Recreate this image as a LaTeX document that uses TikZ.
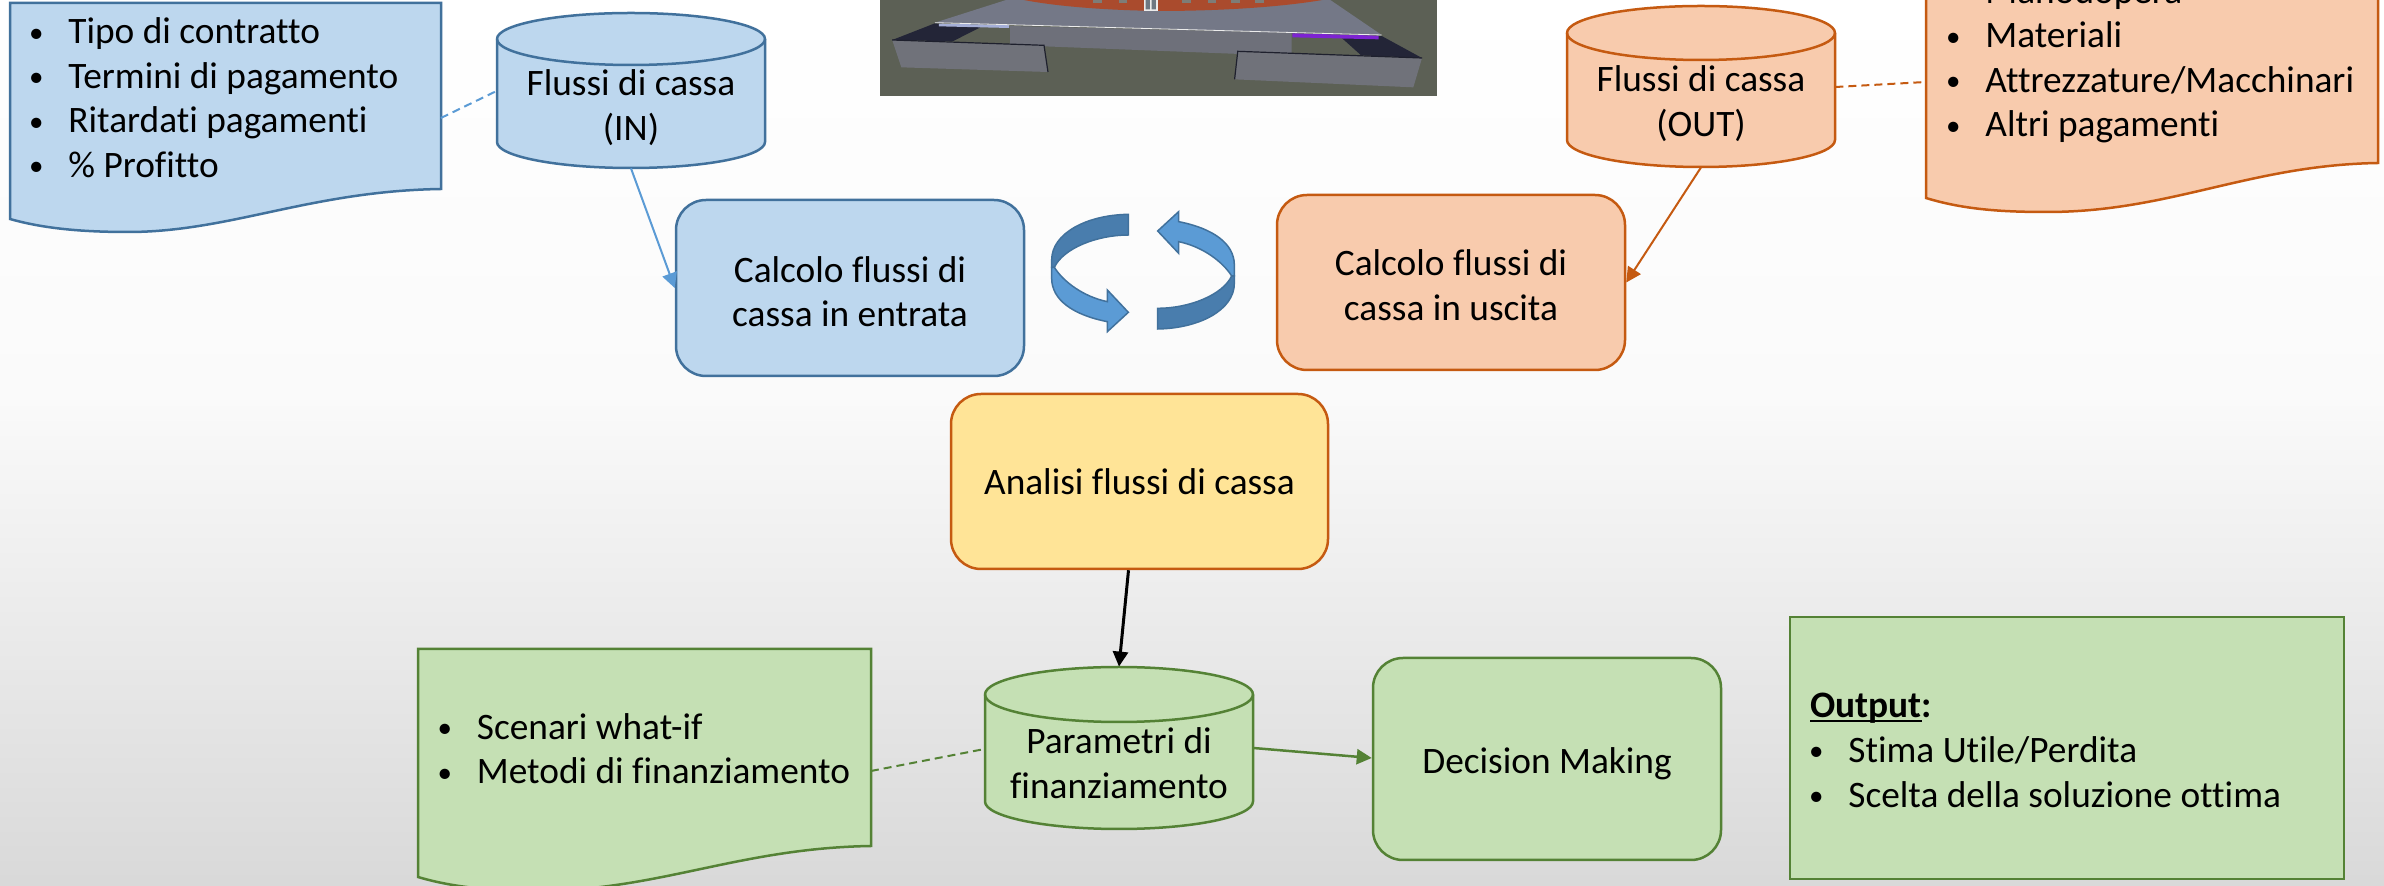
\documentclass[tikz,border=0pt]{standalone}
\usepackage{fontspec}
\setmainfont[Ligatures=CommonOff]{Carlito}
\usetikzlibrary{calc,arrows.meta}
\definecolor{bluefill}{HTML}{BDD7EE}\definecolor{bluedraw}{HTML}{41719C}\definecolor{bluearrow}{HTML}{5B9BD5}\definecolor{bluedark}{HTML}{497DAD}
\definecolor{orfill}{HTML}{F8CBAD}\definecolor{ordraw}{HTML}{C55A11}
\definecolor{grfill}{HTML}{C5E0B4}\definecolor{grdraw}{HTML}{548235}
\definecolor{yefill}{HTML}{FFE497}
\tikzset{
 x=0.5pt,y=-0.5pt,
 shapeline/.style={line width=1.25pt},
 txt/.style={font=\fontsize{18.67}{22.4}\selectfont,align=center,inner sep=0pt,text=black},
 listtxt/.style={font=\fontsize{18.67}{22.25}\selectfont,align=left,inner sep=0pt,anchor=north west,text=black},
 roundbox/.style={shapeline,rounded corners=15pt,inner sep=0pt},
 link/.style={line width=1pt},
 dashlink/.style={line width=1pt,dash pattern=on 4pt off 2.5pt},
 tip/.style={-{Triangle[length=7.5pt,width=7.5pt]}},
}
\newcommand{\blt}{\makebox[20pt][l]{\hspace{4pt}\makebox[0pt][c]{\raisebox{0.7pt}{\fontsize{14.5}{14.5}\selectfont\textbullet}}}}
\newcommand{\firstline}{\rule{0pt}{14pt}}
\newcommand{\thickul}[1]{\setbox0\hbox{#1}\rlap{\rule[-2.4pt]{\wd0}{1.3pt}}\box0 }
% \cyl{name}{x1}{y1}{x2}{y2}{ry}{fill}{draw}{text offset below the node centre}
\newcommand{\cyl}[9]{%
 \path[fill=#7,draw=#8,shapeline] (#2,#3+#6) -- (#2,#5-#6) arc[x radius={(#4-#2)/2},y radius=#6,start angle=180,end angle=0] -- (#4,#3+#6) arc[x radius={(#4-#2)/2},y radius=#6,start angle=0,end angle=-180] -- cycle;
 \draw[draw=#8,shapeline] (#2,#3+#6) arc[x radius={(#4-#2)/2},y radius=#6,start angle=180,end angle=0];
 \node[txt,minimum width={(#4-#2)*0.5pt},minimum height={(#5-#3)*0.5pt}] (#1) at ({(#2+#4)/2},{(#3+#5)/2}) {};
 \coordinate (#1c) at ({(#2+#4)/2},{(#3+#5)/2+#9});
}
% round box
\newcommand{\rbox}[8]{\node[roundbox,fill=#6,draw=#7,txt,minimum width={(#4-#2)*0.5pt},minimum height={(#5-#3)*0.5pt}] (#1) at ({(#2+#4)/2},{(#3+#5)/2}) {#8};}
\begin{document}
\begin{tikzpicture}
\useasboundingbox (0,0) rectangle (2384,886);
\clip (0,0) rectangle (2384,886);
\shade[top color=white,bottom color=white!98!black] (0,0) rectangle (2384,401);
\shade[top color=white!98!black,bottom color=white!85!black] (0,400) rectangle (2384,886);
% image
\begin{scope}[shift={(840,0)},x=0.19770pt,y=-0.16667pt]
\fill[fill={rgb,255:red,92;green,96;blue,85}] (101,0) rectangle (1510,288);
\fill[fill={rgb,255:red,116;green,120;blue,135}] (420,0) -- (1240,0) -- (1370,105) -- (240,68) -- cycle;
\fill[fill={rgb,255:red,110;green,112;blue,122}] (430,78) -- (1142,98) -- (1142,168) -- (430,135) -- cycle;
\fill[fill={rgb,255:red,170;green,75;blue,45}] (465,0) .. controls (560,22) and (700,32) .. (820,33) .. controls (980,32) and (1120,20) .. (1220,0) -- cycle;
\fill[fill={rgb,255:red,35;green,37;blue,55}] (240,70) -- (355,82) -- (285,124) -- (132,120) -- cycle;
\fill[fill={rgb,255:red,35;green,37;blue,55}] (1270,115) -- (1370,108) -- (1472,174) -- (1318,166) -- cycle;
\fill[fill={rgb,255:red,112;green,114;blue,122}] (132,120) -- (516,136) -- (526,216) -- (155,202) -- cycle;
\draw[line width=0.6pt,draw={rgb,255:red,30;green,32;blue,45}] (132,120) -- (516,136) -- (526,216);
\fill[fill={rgb,255:red,112;green,114;blue,122}] (1006,154) -- (1472,174) -- (1450,262) -- (998,238) -- cycle;
\draw[line width=0.6pt,draw={rgb,255:red,30;green,32;blue,45}] (998,238) -- (1006,154) -- (1472,174);
\fill[fill={rgb,255:red,165;green,175;blue,215}] (250,71) -- (428,75) -- (428,84) -- (250,79) -- cycle;
\fill[fill={rgb,255:red,125;green,35;blue,210}] (1144,100) -- (1362,107) -- (1362,118) -- (1144,112) -- cycle;
\draw[line width=0.4pt,draw=white!85!gray] (240,68) -- (1370,105);
\fill[fill=white!85!gray] (768,0) rectangle (803,33);
\fill[fill={rgb,255:red,110;green,120;blue,130}] (773,0) rectangle (784,28) (788,0) rectangle (799,28);
\foreach \wx in {640,705,865,930,990,1050}{\fill[fill={rgb,255:red,125;green,125;blue,120}] (\wx,0) rectangle (\wx+22,10);}
\end{scope}
% documents
\path[fill=bluefill,draw=bluedraw,shapeline] (10,3) -- (441,3) -- (441,189) .. controls (310,191) and (230,232) .. (128,232) .. controls (85,232) and (45,229) .. (10,219) -- cycle;
\node[listtxt] (d1) at (28,15.5) {\firstline\blt Tipo di contratto\\\blt Termini di pagamento\\\blt Ritardati pagamenti\\\blt \% Profitto};
\node[inner sep=0pt,minimum width=215pt,minimum height=115pt] (doc1) at (225.5,117) {};
\path[fill=orfill,draw=ordraw,shapeline] (1926,-10) -- (2378,-10) -- (2378,163) .. controls (2250,165) and (2170,212) .. (2047,212) .. controls (2005,212) and (1965,210) .. (1926,198) -- cycle;
\node[listtxt] (d2) at (1945,-25) {\firstline\blt Manodopera\\\blt Materiali\\\blt Attrezzature/Macchinari\\\blt Altri pagamenti};
\node[inner sep=0pt,minimum width=226pt,minimum height=110pt] (doc2) at (2152,100) {};
\path[fill=grfill,draw=grdraw,shapeline] (418,649) -- (871,649) -- (871,846) .. controls (740,848) and (660,890) .. (540,891) .. controls (495,891) and (455,888) .. (418,877) -- cycle;
\node[listtxt] (d3) at (436.5,711) {\firstline\blt Scenari what-if\\\blt Metodi di finanziamento};
\node[inner sep=0pt,minimum width=226pt,minimum height=115pt] (doc3) at (644.5,765) {};
% cylinders
\cyl{cylin}{497}{13}{765}{168}{26}{bluefill}{bluedraw}{17}
\node[txt] (cylintext) at (cylinc) {Flussi di cassa\\(IN)};
\cyl{cylout}{1567}{6}{1835}{167}{27}{orfill}{ordraw}{17}
\node[txt] (cylouttext) at (cyloutc) {Flussi di cassa\\(OUT)};
\cyl{cylfin}{985}{667}{1253}{829}{27.5}{grfill}{grdraw}{15}
\node[txt] (cylfintext) at (cylfinc) {Parametri di\\finanziamento};
% connectors
\draw[dashlink,draw=bluearrow] (doc1.east) ++(0,1) -- ($(cylin.west)+(0,0.5)$);
\draw[dashlink,draw=ordraw] ($(cylout.east)+(0,0.5)$) -- (doc2.west|-0,82);
% boxes
\rbox{calcin}{676}{200}{1024}{376}{bluefill}{bluedraw}{\rule{0pt}{16.7pt}Calcolo flussi di\\cassa in entrata}
\rbox{calcout}{1277}{195}{1625}{370}{orfill}{ordraw}{\rule{0pt}{15.7pt}Calcolo flussi di\\cassa in uscita}
\rbox{yellow}{951}{394}{1328}{569}{yefill}{ordraw}{Analisi flussi di cassa}
\rbox{dm}{1373}{658}{1721}{860}{grfill}{grdraw}{\rule{0pt}{17.7pt}Decision Making}
\node[draw=grdraw,fill=grfill,shapeline,minimum width=277pt,minimum height=131pt,inner sep=0pt] (out) at (2067,748) {};
\node[listtxt,font=\fontsize{18.67}{22.5}\selectfont] (outt) at (1808,689) {\firstline\hspace*{1pt}\textbf{\thickul{Output}:}\\\blt Stima Utile/Perdita\\\blt Scelta della soluzione ottima};
\draw[link,draw=bluearrow,tip] (cylin.south) -- (calcin.west);
\draw[link,draw=ordraw,tip] (cylout.south) -- (calcout.east);
\draw[line width=1.5pt,tip] ($(yellow.south)+(-11,0)$) -- (cylfin.north);
\draw[draw=grdraw,line width=1.25pt,tip] (cylfin.east) -- ($(dm.west)+(0,-1)$);
\draw[dashlink,draw=grdraw] (doc3.east) ++(0,6) -- ($(cylfin.west)+(0,1)$);
% cycle arrows
\newcommand{\cyc}{%
 \fill[fill=bluedark,draw=bluedraw,line width=0.75pt] (385,103) .. controls (260,105) and (155,160) .. (155,240) -- (155,262) -- (163,262) .. controls (190,205) and (290,165) .. (385,165) -- cycle;
 \fill[fill=bluearrow,draw=bluedraw,line width=0.75pt] (163,262) .. controls (190,305) and (250,350) .. (322,365) -- (322,330) -- (385,397) -- (322,455) -- (322,425) .. controls (220,405) and (155,360) .. (155,295) -- (155,262) -- cycle;
}
\begin{scope}[shift={(1000,180)},x=0.16667pt,y=-0.16667pt]\cyc\end{scope}
\begin{scope}[shift={(1286,363.33)},x=-0.16667pt,y=0.16667pt]\cyc\end{scope}
\end{tikzpicture}
\end{document}
